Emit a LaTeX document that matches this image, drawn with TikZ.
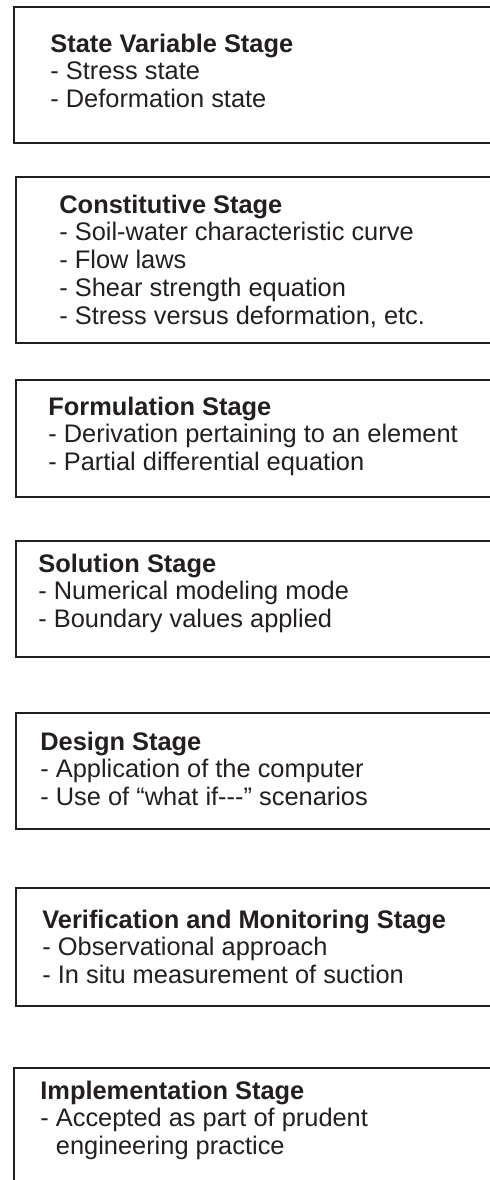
\documentclass[tikz,border=0pt]{standalone}
\usepackage{fontspec}
\setmainfont{Liberation Sans}
\usetikzlibrary{positioning}
\definecolor{stagegray}{RGB}{35,31,32}

\tikzset{
  stagebox/.style={draw=stagegray, line width=1.3pt},
  % base anchor of a multi-line node = baseline of its last line
  stagetext/.style={anchor=base west, inner sep=0pt, align=left, text=stagegray,
    font=\fontsize{12.7}{13.9}\selectfont},
}

\begin{document}
\begin{tikzpicture}[x=0.5pt, y=-0.5pt]
\useasboundingbox (0,0) rectangle (490,1180);
\clip (0,0) rectangle (490,1180);
% State variable stage
\draw[stagebox] (14,7) rectangle (500,143);
\node[stagetext] (statevar) at (50,107.6)
  {\textbf{State Variable Stage}\\- Stress state\\- Deformation state};
% Constitutive stage
\draw[stagebox] (16,177) rectangle (500,343);
\node[stagetext] (constit) at (59,324.2)
  {\textbf{Constitutive Stage}\\- Soil-water characteristic curve\\- Flow laws\\
   - Shear strength equation\\- Stress versus deformation, etc.};
% Formulation stage
\draw[stagebox] (16,380) rectangle (500,497);
\node[stagetext] (formul) at (48,470.6)
  {\textbf{Formulation Stage}\\- Derivation pertaining to an element\\- Partial differential equation};
% Solution stage
\draw[stagebox] (16,541) rectangle (500,657);
\node[stagetext] (solution) at (38,627.6)
  {\textbf{Solution Stage}\\- Numerical modeling mode\\- Boundary values applied};
% Design stage
\draw[stagebox] (16,713) rectangle (500,829);
\node[stagetext] (design) at (40,805.6)
  {\textbf{Design Stage}\\- Application of the computer\\- Use of “what if-{}-{}-” scenarios};
% Verification and monitoring stage
\draw[stagebox] (16,888) rectangle (500,1006);
\node[stagetext] (verif) at (42,983.6)
  {\textbf{Verification and Monitoring Stage}\\- Observational approach\\- In situ measurement of suction};
% Implementation stage (runs off the page)
\draw[stagebox] (14,1068) rectangle (500,1200);
\node[stagetext] (implem) at (40,1154.6)
  {\textbf{Implementation Stage}\\- Accepted as part of prudent\\\phantom{- }engineering practice};
\end{tikzpicture}
\end{document}
